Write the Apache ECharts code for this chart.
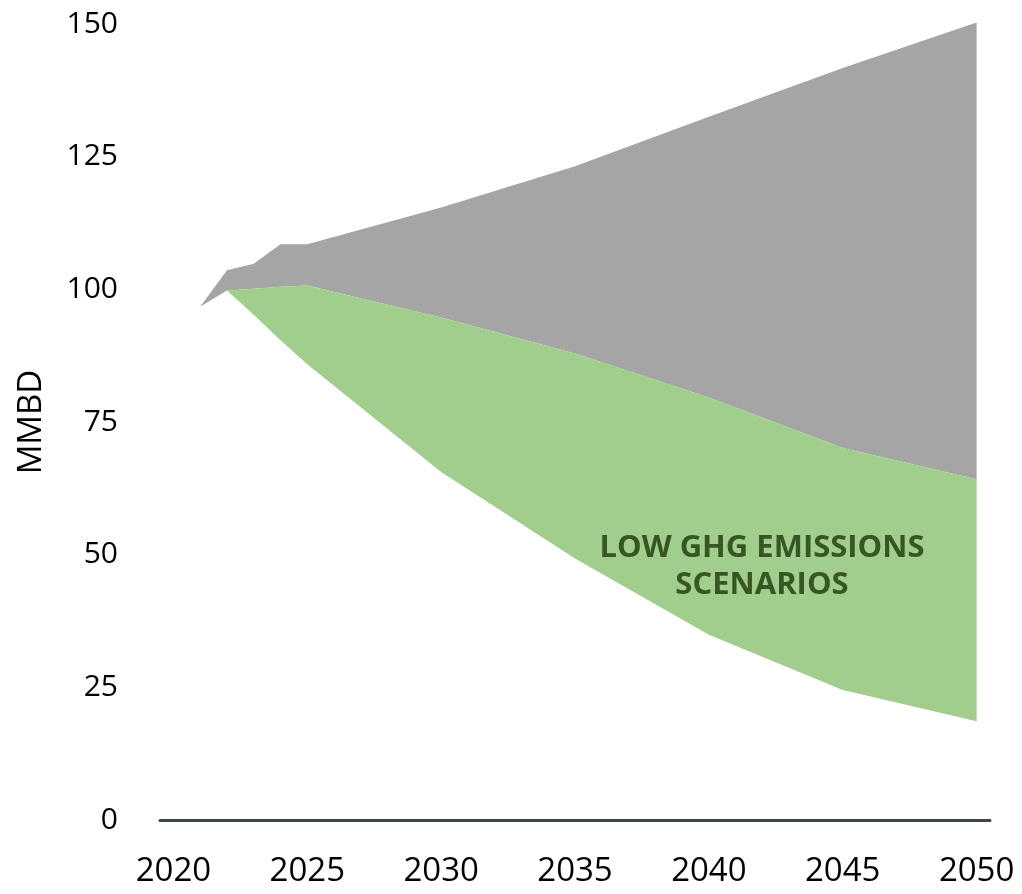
<!DOCTYPE html>
<html>
<head>
<meta charset="utf-8">
<script src="https://cdn.jsdelivr.net/npm/echarts@6/dist/echarts.min.js"></script>
<style>
html,body{margin:0;padding:0;background:#fff;}
#chart{width:1022px;height:894px;}
</style>
</head>
<body>
<div id="chart"></div>
<script>
// Data (MMBD)
const years      = [2021, 2022, 2023, 2024, 2025, 2030, 2035, 2040, 2045, 2050];
const greenLow   = [96.7, 99.8, 95.2, 90.4, 85.9, 65.6, 49.3, 34.9, 24.5, 18.6];
const greenHigh  = [96.7, 99.8, 100.1, 100.5, 100.7, 94.7, 87.9, 79.6, 70.1, 64.2];
const grayHigh   = [96.7, 103.6, 104.8, 108.5, 108.5, 115.4, 123.2, 132.5, 141.7, 150.3];
const yTicks     = [0, 25, 50, 75, 100, 125, 150];
const xLabelYears = [2020, 2025, 2030, 2035, 2040, 2045, 2050];
const annotation = ['LOW GHG EMISSIONS', 'SCENARIOS'];

const bands = [
  {name: 'Other scenarios', low: greenHigh, high: grayHigh, color: '#A5A5A5'},
  {name: 'Low GHG emissions scenarios', low: greenLow, high: greenHigh, color: '#A1CE8C'}
];

const chart = echarts.init(document.getElementById('chart'), null, {renderer: 'canvas'});
const fontFam = '"Open Sans", "Noto Sans", sans-serif';

function bandSeries(band) {
  return {
    type: 'custom',
    name: band.name,
    data: [0],
    renderItem: function (params, api) {
      const pts = [];
      for (let i = 0; i < years.length; i++) pts.push(api.coord([years[i], band.high[i]]));
      for (let i = years.length - 1; i >= 0; i--) pts.push(api.coord([years[i], band.low[i]]));
      return {type: 'polygon', shape: {points: pts}, style: {fill: band.color}};
    }
  };
}

chart.setOption({
  animation: false,
  grid: {left: 160, right: 32, top: 24, bottom: 74},
  xAxis: {
    type: 'value',
    min: 2019.5, max: 2050.5, interval: 0.5,
    axisLine: {show: true, lineStyle: {color: '#3C464B', width: 3}},
    axisTick: {show: false},
    splitLine: {show: false},
    axisLabel: {
      margin: 35,
      fontSize: 33, color: '#000', fontFamily: fontFam,
      formatter: v => xLabelYears.indexOf(v) >= 0 ? String(v) : ''
    }
  },
  yAxis: {
    type: 'value',
    min: yTicks[0], max: yTicks[yTicks.length - 1], interval: 25,
    name: 'MMBD', nameLocation: 'middle', nameGap: 112, nameRotate: 90,
    nameTextStyle: {fontSize: 33, color: '#000', fontFamily: fontFam},
    axisLine: {show: false}, axisTick: {show: false}, splitLine: {show: false},
    axisLabel: {margin: 42, fontSize: 30, color: '#000', fontFamily: fontFam}
  },
  series: bands.map(bandSeries),
  graphic: [{
    type: 'text', x: 762, y: 530, z: 100,
    style: {
      text: annotation.join('\n'),
      align: 'center', verticalAlign: 'top',
      fill: '#375623', font: 'bold 31px ' + fontFam, lineHeight: 37
    }
  }]
});
</script>
</body>
</html>
